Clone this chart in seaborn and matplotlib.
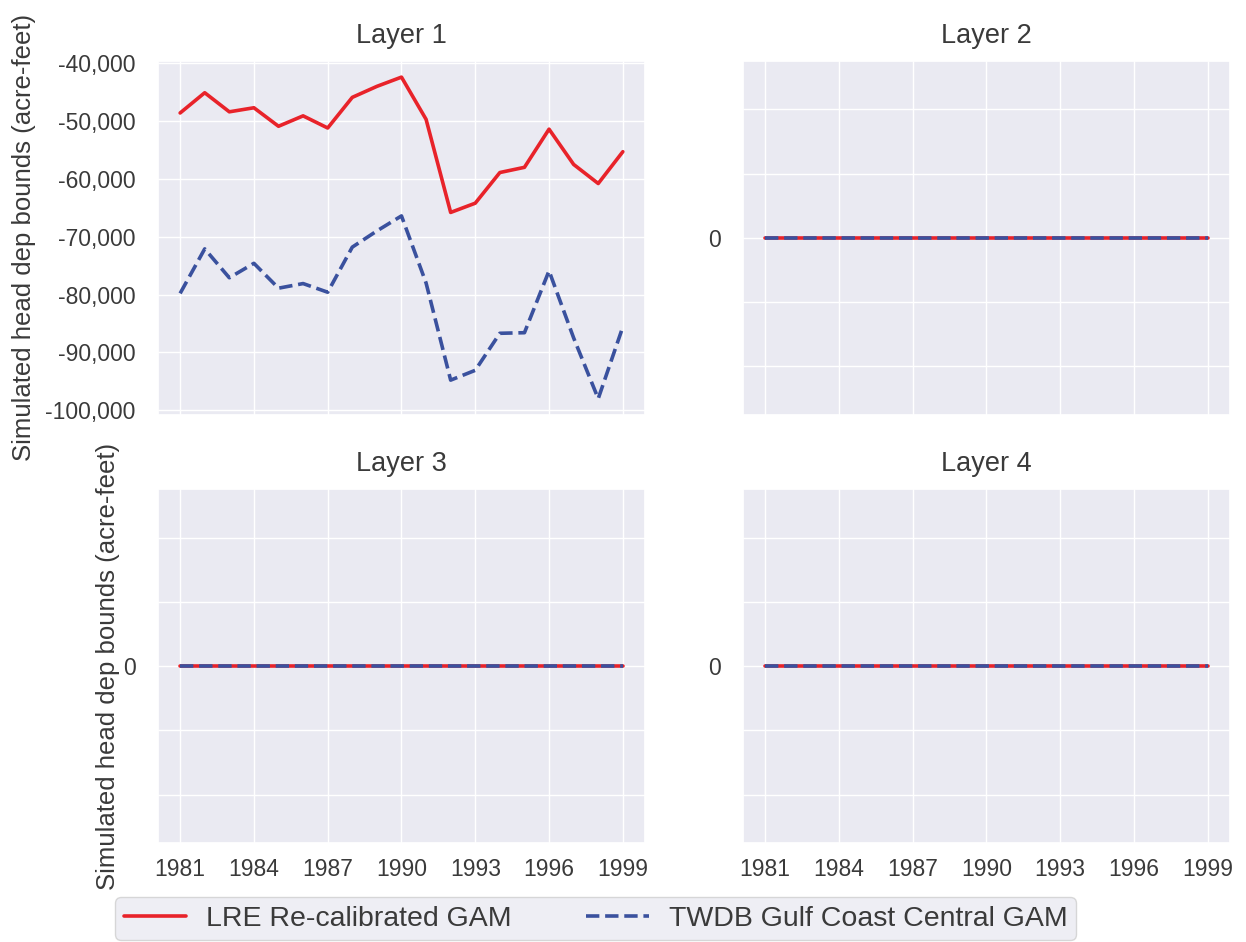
import numpy as np
import pandas as pd
import matplotlib
matplotlib.use("Agg")
import matplotlib.pyplot as plt
import seaborn as sns
from matplotlib.ticker import FuncFormatter

# data
years = [1981, 1982, 1983, 1984, 1985, 1986, 1987, 1988, 1989, 1990,
         1991, 1992, 1993, 1994, 1995, 1996, 1997, 1998, 1999]

lre_layer1 = [-48600, -45100, -48400, -47700, -50900, -49100, -51200, -45900, -44000, -42400,
              -49700, -65800, -64200, -58900, -58000, -51400, -57500, -60800, -55300]
twdb_layer1 = [-79800, -72100, -77100, -74600, -78900, -78100, -79600, -71800, -69000, -66400,
               -78000, -94800, -93100, -86700, -86600, -75900, -87500, -98000, -85600]

# layers 2-4 are flat at zero for both models
lre_layer2 = [0, 0, 0, 0, 0, 0, 0, 0, 0, 0, 0, 0, 0, 0, 0, 0, 0, 0, 0]
twdb_layer2 = [0, 0, 0, 0, 0, 0, 0, 0, 0, 0, 0, 0, 0, 0, 0, 0, 0, 0, 0]
lre_layer3 = [0, 0, 0, 0, 0, 0, 0, 0, 0, 0, 0, 0, 0, 0, 0, 0, 0, 0, 0]
twdb_layer3 = [0, 0, 0, 0, 0, 0, 0, 0, 0, 0, 0, 0, 0, 0, 0, 0, 0, 0, 0]
lre_layer4 = [0, 0, 0, 0, 0, 0, 0, 0, 0, 0, 0, 0, 0, 0, 0, 0, 0, 0, 0]
twdb_layer4 = [0, 0, 0, 0, 0, 0, 0, 0, 0, 0, 0, 0, 0, 0, 0, 0, 0, 0, 0]

layer_names = ["Layer 1", "Layer 2", "Layer 3", "Layer 4"]
lre_series = [lre_layer1, lre_layer2, lre_layer3, lre_layer4]
twdb_series = [twdb_layer1, twdb_layer2, twdb_layer3, twdb_layer4]
xticks = [1981, 1984, 1987, 1990, 1993, 1996, 1999]

red = "#e8232a"
blue = "#3a519e"
ylabel = "Simulated head dep bounds (acre-feet)"

sns.set_theme(style="darkgrid")
plt.rcParams["font.family"] = ["Liberation Sans", "DejaVu Sans"]
plt.rcParams["text.color"] = "#3a3a3a"
plt.rcParams["xtick.color"] = "#3a3a3a"
plt.rcParams["ytick.color"] = "#3a3a3a"
plt.rcParams["axes.labelcolor"] = "#3a3a3a"

fig, axes = plt.subplots(2, 2, figsize=(12.46, 9.42), dpi=100, sharex=True)
fig.subplots_adjust(left=0.1268, right=0.987, top=0.9352, bottom=0.1051,
                    wspace=0.201, hspace=0.211)

for i, ax in enumerate(axes.flat):
    df = pd.DataFrame({"Year": years, "LRE": lre_series[i], "TWDB": twdb_series[i]})
    sns.lineplot(data=df, x="Year", y="LRE", ax=ax, color=red, linewidth=2.6,
                 label="LRE Re-calibrated GAM")
    sns.lineplot(data=df, x="Year", y="TWDB", ax=ax, color=blue, linewidth=2.6,
                 linestyle="--", label="TWDB Gulf Coast Central GAM")
    ax.set_title(layer_names[i], fontsize=19.5, pad=13)
    ax.set_xticks(xticks)
    ax.tick_params(axis="x", labelsize=16.5, pad=4.5)
    ax.tick_params(axis="y", labelsize=16.5, pad=10)
    ax.set_xlabel("")
    if i == 0:
        ax.yaxis.set_major_formatter(FuncFormatter(lambda v, p: f"{v:,.0f}"))
    else:
        ax.set_yticks([-0.04, -0.02, 0, 0.02, 0.04])
        ax.set_ylim(-0.055, 0.055)
        ax.yaxis.set_major_formatter(FuncFormatter(lambda v, p: "0" if abs(v) < 1e-9 else ""))
    if i % 2 == 0:
        ax.set_ylabel(ylabel, fontsize=18.5)
    else:
        ax.set_ylabel("")
    ax.get_legend().remove()

axes[0, 0].yaxis.set_label_coords(-0.25, 0.5)
axes[1, 0].yaxis.set_label_coords(-0.078, 0.5)

handles, labels = axes[0, 0].get_legend_handles_labels()
leg = fig.legend(handles, labels, loc="lower center", bbox_to_anchor=(0.478, 0.002),
                 borderaxespad=0, ncol=2, fontsize=20.5, frameon=True, handlelength=2.2,
                 handletextpad=0.7, columnspacing=2.6, borderpad=0.3)
leg.get_frame().set_facecolor("#eaeaf2")
leg.get_frame().set_edgecolor("#cfcfcf")

fig.savefig("out.png", dpi=100)
